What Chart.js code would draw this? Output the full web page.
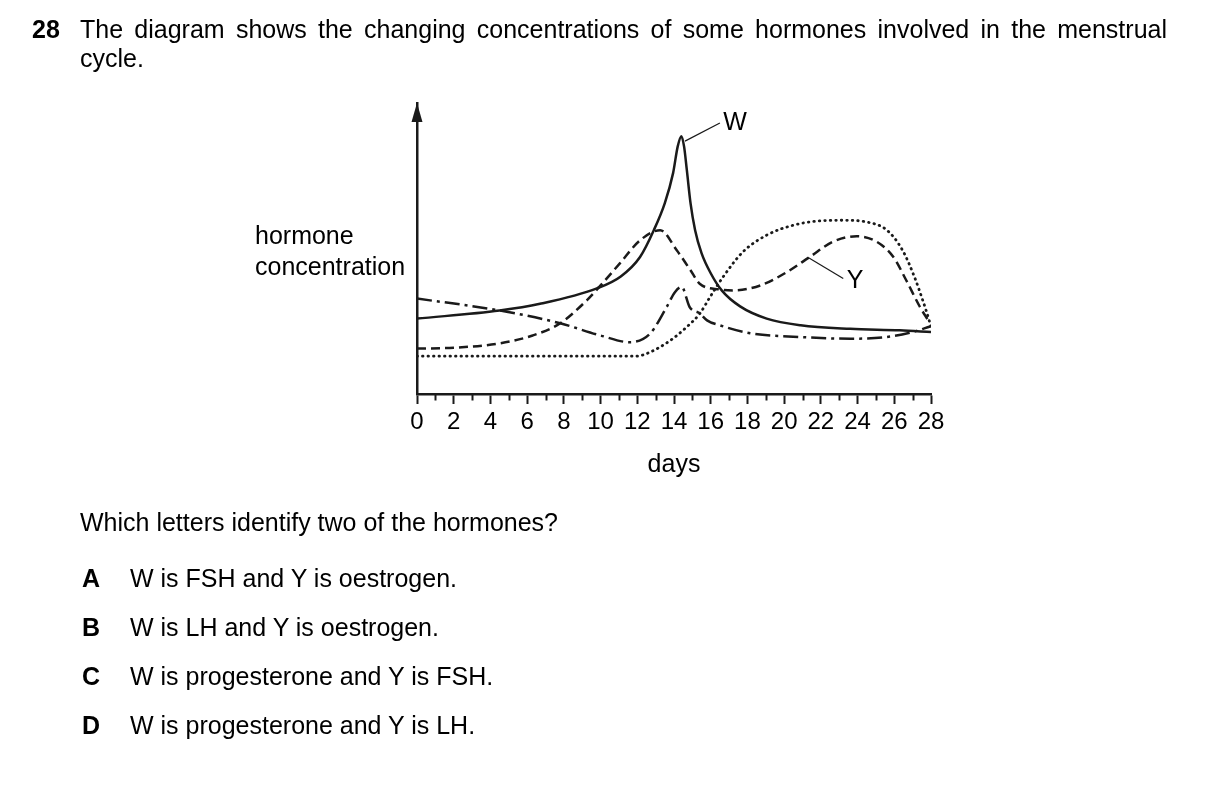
<!DOCTYPE html>
<html>
<head>
<meta charset="utf-8">
<script src="https://cdn.jsdelivr.net/npm/chart.js@4.4.0/dist/chart.umd.min.js"></script>
<style>
  html, body { margin: 0; padding: 0; background: #fff; }
  body { width: 1209px; height: 790px; position: relative; overflow: hidden;
         font-family: "Liberation Sans", Arial, sans-serif; font-size: 25px; color: #000; }
  #chart { position: absolute; left: 0; top: 0; }
  .t { position: absolute; line-height: 29px; white-space: nowrap; }
</style>
</head>
<body>
<canvas id="chart" width="1209" height="790"></canvas>

<div class="t" style="left:32px;top:15px;"><b>28</b></div>
<div class="t" style="left:80px;top:15px;width:1087px;white-space:normal;text-align:justify;text-align-last:justify;">The diagram shows the changing concentrations of some hormones involved in the menstrual</div>
<div class="t" style="left:80px;top:44px;">cycle.</div>

<div class="t" style="left:255px;top:221px;">hormone</div>
<div class="t" style="left:255px;top:252px;">concentration</div>

<div class="t" style="left:80px;top:508px;">Which letters identify two of the hormones?</div>
<div class="t" style="left:82px;top:564px;"><b>A</b></div>
<div class="t" style="left:130px;top:564px;">W is FSH and Y is oestrogen.</div>
<div class="t" style="left:82px;top:613px;"><b>B</b></div>
<div class="t" style="left:130px;top:613px;">W is LH and Y is oestrogen.</div>
<div class="t" style="left:82px;top:662px;"><b>C</b></div>
<div class="t" style="left:130px;top:662px;">W is progesterone and Y is FSH.</div>
<div class="t" style="left:82px;top:711px;"><b>D</b></div>
<div class="t" style="left:130px;top:711px;">W is progesterone and Y is LH.</div>

<script>
// days 0..28, labelled every 2 days
const dayTicks = [0, 2, 4, 6, 8, 10, 12, 14, 16, 18, 20, 22, 24, 26, 28];
const minorDays = [1, 3, 5, 7, 9, 11, 13, 15, 17, 19, 21, 23, 25, 27];

// W - solid line (sharp peak mid-cycle)
const lhDays   = [0, 4.5, 6.7, 9.8, 11.1, 12.15, 12.9, 13.5, 13.95, 14.2, 14.4, 14.55, 14.7, 14.9, 15.15, 15.5, 16.0, 16.6, 17.6, 19.05, 20.9, 23.6, 26.3, 28];
const lhLevels = [25.9, 28.7, 31.0, 36.3, 40.4, 47.1, 56.3, 65.6, 75.9, 85.0, 88.6, 85.0, 76.9, 65.6, 56.3, 48.4, 41.5, 35.6, 30.1, 25.9, 23.6, 22.4, 21.9, 21.3];

// Y - dashed line (two peaks)
const oestrogenDays   = [0, 2, 4.5, 6.3, 7.8, 9.25, 10.0, 11.05, 12.15, 13.25, 14.15, 14.9, 15.4, 16.5, 17.2, 18.7, 20.15, 21.4, 22.65, 23.95, 25.05, 25.95, 26.65, 27.4, 27.85];
const oestrogenLevels = [15.6, 15.9, 17.4, 20.1, 24.3, 32.2, 37.3, 44.9, 52.8, 56.3, 49.4, 42.5, 37.9, 35.9, 35.6, 37.3, 41.9, 47.1, 52.3, 54.2, 52.3, 47.1, 39.1, 29.9, 25.3];

// dash-dot line
const fshDays   = [0, 4.5, 7.8, 10.0, 11.6, 12.7, 13.6, 14.05, 14.42, 14.85, 15.4, 15.8, 16.5, 18.15, 20.85, 23.6, 25.6, 27.0, 27.95];
const fshLevels = [32.8, 28.7, 24.3, 20.1, 17.8, 20.8, 29.9, 35.0, 36.8, 29.9, 27.7, 25.3, 23.6, 20.9, 19.6, 19.0, 19.6, 21.3, 23.2];

// dotted line
const progesteroneDays   = [0, 6, 11.95, 12.7, 13.8, 14.6, 15.4, 15.96, 16.67, 17.75, 19.05, 20.5, 21.95, 23.2, 24.5, 25.6, 26.45, 27.1, 27.55, 27.9, 28];
const progesteroneLevels = [13.0, 13.0, 13.0, 14.4, 18.4, 22.5, 27.6, 33.3, 40.2, 48.8, 54.6, 58.0, 59.5, 59.7, 59.1, 56.3, 49.4, 40.2, 32.2, 25.3, 23.0];

const ink = '#1a1a1a';
const font = '"Liberation Sans", Arial, sans-serif';

function points(xs, ys) {
  return xs.map((x, i) => ({ x: x, y: ys[i] }));
}

// letter labels with their leader lines, in data units
const callouts = [
  { text: 'W', from: [14.6, 86.9], to: [16.5, 93.1], at: [17.32, 93.5] },
  { text: 'Y', from: [21.31, 46.9], to: [23.22, 39.7], at: [23.86, 39.2] }
];

const extras = {
  id: 'extras',
  afterDraw(chart) {
    const { ctx, chartArea, scales } = chart;
    const x = scales.x, y = scales.y;
    ctx.save();
    ctx.strokeStyle = ink;
    ctx.fillStyle = ink;

    // short ticks on odd days
    ctx.lineWidth = 2;
    minorDays.forEach(d => {
      const px = Math.round(x.getPixelForValue(d)) + 0.5;
      ctx.beginPath();
      ctx.moveTo(px, chartArea.bottom);
      ctx.lineTo(px, chartArea.bottom + 6.5);
      ctx.stroke();
    });

    // arrow head on the y axis
    const ax = chartArea.left, ay = chartArea.top;
    ctx.beginPath();
    ctx.moveTo(ax, ay);
    ctx.lineTo(ax - 5.5, ay + 19);
    ctx.lineTo(ax + 5.5, ay + 19);
    ctx.closePath();
    ctx.fill();

    // W / Y labels
    ctx.lineWidth = 1.2;
    ctx.font = '25px ' + font;
    ctx.fillStyle = '#000';
    ctx.textAlign = 'center';
    ctx.textBaseline = 'middle';
    callouts.forEach(c => {
      ctx.beginPath();
      ctx.moveTo(x.getPixelForValue(c.from[0]), y.getPixelForValue(c.from[1]));
      ctx.lineTo(x.getPixelForValue(c.to[0]), y.getPixelForValue(c.to[1]));
      ctx.stroke();
      ctx.fillText(c.text, x.getPixelForValue(c.at[0]), y.getPixelForValue(c.at[1]) + 1);
    });
    ctx.restore();
  }
};

const common = {
  borderColor: ink,
  borderWidth: 2.5,
  pointRadius: 0,
  fill: false,
  cubicInterpolationMode: 'monotone'
};

new Chart(document.getElementById('chart'), {
  type: 'line',
  data: {
    datasets: [
      Object.assign({ label: 'progesterone', data: points(progesteroneDays, progesteroneLevels),
        borderDash: [0.5, 5], borderCapStyle: 'round' }, common, { borderWidth: 2.8 }),
      Object.assign({ label: 'FSH', data: points(fshDays, fshLevels), borderDash: [15, 5, 3, 5] }, common),
      Object.assign({ label: 'oestrogen', data: points(oestrogenDays, oestrogenLevels), borderDash: [9, 5] }, common),
      Object.assign({ label: 'LH', data: points(lhDays, lhLevels) }, common)
    ]
  },
  options: {
    responsive: false,
    animation: false,
    layout: { padding: { left: 417, right: 278, top: 103, bottom: 306 } },
    plugins: { legend: { display: false }, tooltip: { enabled: false } },
    scales: {
      x: {
        type: 'linear',
        min: 0,
        max: 28,
        afterFit: s => { s.height = 90; },
        afterBuildTicks: s => { s.ticks = dayTicks.map(v => ({ value: v })); },
        ticks: {
          autoSkip: false,
          maxRotation: 0,
          padding: 4,
          color: '#000',
          font: { family: font, size: 24 }
        },
        grid: { drawOnChartArea: false, drawTicks: true, tickLength: 10, tickColor: ink, tickWidth: 2 },
        border: { display: true, color: ink, width: 2.5 },
        title: {
          display: true,
          text: 'days',
          color: '#000',
          font: { family: font, size: 25 },
          padding: { top: 0, bottom: 4 }
        }
      },
      y: {
        min: 0,
        max: 100,
        afterFit: s => { s.width = 0; },
        ticks: { display: false },
        grid: { drawOnChartArea: false, drawTicks: false },
        border: { display: true, color: ink, width: 2.5 }
      }
    }
  },
  plugins: [extras]
});
</script>
</body>
</html>
